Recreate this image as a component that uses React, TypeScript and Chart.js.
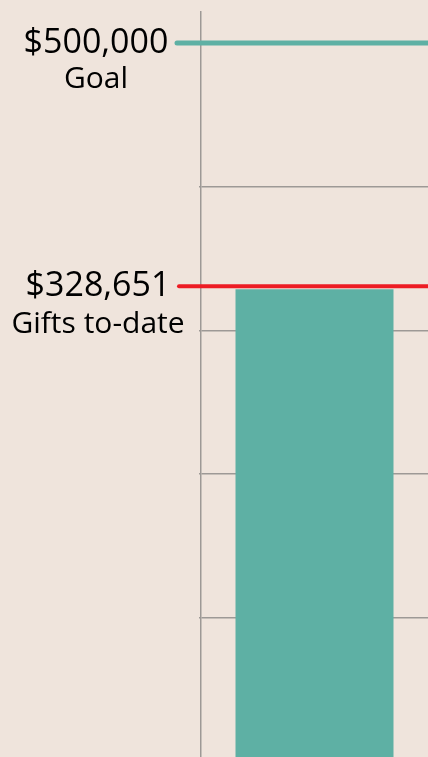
import React, { useEffect, useRef } from "react";
import { Chart, registerables } from "chart.js";

Chart.register(...registerables);

const categories = ["Gifts to-date"];
const giftsValues = [328651];
const goalValue = 500000;
const goalLabel = "Goal";
const giftsLabel = "Gifts to-date";
const tickValues = [100000, 200000, 300000, 400000, 500000];
const yMin = 3300;
const yMax = 521500;

const BG = "#efe4dc";
const TEAL = "#5eb0a4";
const RED = "#ed1c24";
const GRID = "#9d9996";
const FONT = "'Open Sans', 'Noto Sans', sans-serif";

const fmt = (v: number) => "$" + v.toLocaleString("en-US");

const annotPlugin = {
  id: "thermo",
  afterDatasetsDraw(chart: any) {
    const ctx = chart.ctx;
    const y = chart.scales.y;
    const right = chart.width;
    const labelCx = 97;
    ctx.save();
    // goal line
    const gy = y.getPixelForValue(goalValue);
    ctx.strokeStyle = TEAL;
    ctx.lineWidth = 5;
    ctx.lineCap = "round";
    ctx.beginPath();
    ctx.moveTo(177, gy);
    ctx.lineTo(right + 10, gy);
    ctx.stroke();
    // gifts line
    const ry = y.getPixelForValue(giftsValues[0]) - 3;
    ctx.strokeStyle = RED;
    ctx.lineWidth = 4;
    ctx.beginPath();
    ctx.moveTo(179, ry);
    ctx.lineTo(right + 10, ry);
    ctx.stroke();
    // texts
    ctx.fillStyle = "#000";
    ctx.textAlign = "center";
    ctx.textBaseline = "middle";
    ctx.font = `34px ${FONT}`;
    ctx.fillText(fmt(goalValue), labelCx - 1, gy);
    ctx.fillText(fmt(giftsValues[0]), labelCx + 1, ry);
    ctx.font = `30px ${FONT}`;
    ctx.fillText(goalLabel, labelCx - 1, gy + 37);
    ctx.fillText(giftsLabel, labelCx + 1, ry + 38);
    ctx.restore();
  },
};

export default function App() {
  const ref = useRef<HTMLCanvasElement | null>(null);
  useEffect(() => {
    if (!ref.current) return;
    const chart = new Chart(ref.current, {
      type: "bar",
      data: {
        labels: categories,
        datasets: [
          {
            data: giftsValues,
            backgroundColor: TEAL,
            borderWidth: 0,
            barPercentage: 0.696,
            categoryPercentage: 1,
          },
        ],
      },
      options: {
        animation: false,
        responsive: true,
        maintainAspectRatio: false,
        layout: { padding: { left: 199, top: 12, right: 0, bottom: 0 } },
        plugins: { legend: { display: false }, tooltip: { enabled: false } },
        scales: {
          x: { display: false },
          y: {
            min: yMin,
            max: yMax,
            afterBuildTicks: (scale: any) => {
              scale.ticks = tickValues.map((v) => ({ value: v }));
            },
            ticks: { display: false },
            grid: {
              color: GRID,
              lineWidth: 1.5,
              drawTicks: true,
              tickLength: 2,
            },
            border: { display: true, color: GRID, width: 1.5 },
          },
        },
      },
      plugins: [annotPlugin],
    });
    return () => chart.destroy();
  }, []);
  return (
    <div
      style={{
        position: "fixed",
        left: 0,
        top: 0,
        width: 428,
        height: 757,
        background: BG,
      }}
    >
      <canvas ref={ref} />
    </div>
  );
}
